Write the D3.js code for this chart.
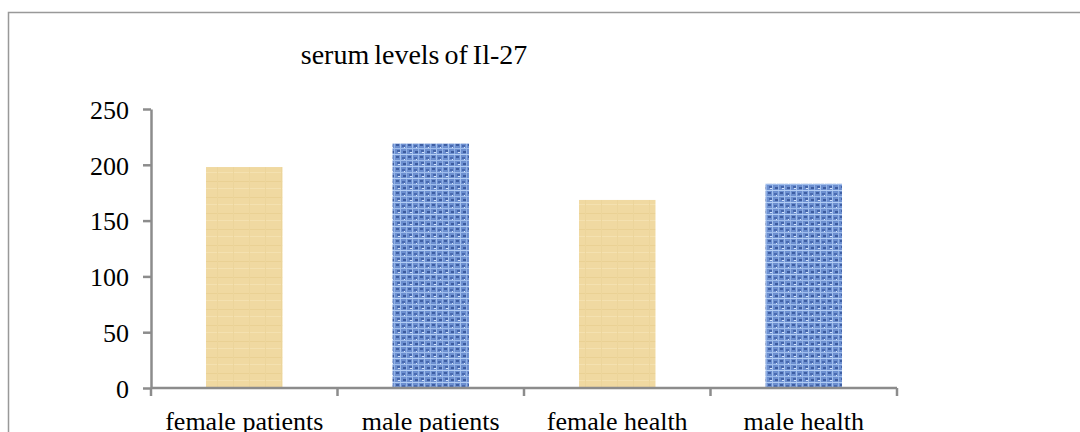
<!DOCTYPE html>
<html>

<head>
  <meta charset="utf-8">
  <title>serum levels of Il-27</title>
  <style>
    body {
      margin: 0;
      background: #fff;
    }

    text {
      font-family: "Liberation Serif", "Times New Roman", Times, serif;
      font-size: 26px;
      fill: #000;
    }

    .axis path,
    .axis line {
      stroke: #8c8c8c;
      stroke-width: 2.5px;
    }
  </style>
</head>

<body>
  <svg width="1080" height="432"></svg>

  <script src="https://cdn.jsdelivr.net/npm/d3@7"></script>
  <script>
    // data
    var categories = ["female patients", "male patients", "female health", "male health"];
    var values = [198, 219, 168.5, 183];
    var fills = ["paper", "cloth", "paper", "cloth"];
    var yTicks = [0, 50, 100, 150, 200, 250];
    var title = "serum levels of Il-27";

    var svg = d3.select("svg");
    var plotLeft = 151, plotRight = 897, plotTop = 109, plotBottom = 388;

    // outer chart frame (runs off the right and bottom edges)
    svg.append("rect")
      .attr("x", 8.5).attr("y", 12.5)
      .attr("width", 1100).attr("height", 450)
      .attr("fill", "none")
      .attr("stroke", "#999")
      .attr("stroke-width", 1.5);

    // textures for the bars
    var defs = svg.append("defs");

    // papyrus-like fill, nearly flat
    var paper = defs.append("pattern")
      .attr("id", "paper")
      .attr("patternUnits", "userSpaceOnUse")
      .attr("width", 16).attr("height", 16);
    paper.append("rect").attr("width", 16).attr("height", 16).attr("fill", "#f0d9a1");
    paper.append("rect").attr("y", 5).attr("width", 16).attr("height", 1).attr("fill", "#ead194");
    paper.append("rect").attr("y", 12).attr("width", 16).attr("height", 1).attr("fill", "#f4e1b0");
    paper.append("rect").attr("x", 9).attr("width", 1).attr("height", 16).attr("fill", "#ecd59b");

    // woven blue fill
    var cloth = defs.append("pattern")
      .attr("id", "cloth")
      .attr("patternUnits", "userSpaceOnUse")
      .attr("width", 12).attr("height", 12);
    var clothBits = [
      [0, 0, 12, 12, "#6c8fd0"],
      [0, 0, 3, 2, "#3f5fa3"],
      [6, 1, 3, 2, "#4a6bb0"],
      [1, 6, 3, 2, "#4566ab"],
      [7, 7, 3, 2, "#3d5c9f"],
      [4, 0, 1, 12, "#a3c0ee"],
      [10, 0, 1, 12, "#93b2e6"],
      [0, 4, 12, 1, "#9fbdec"],
      [0, 10, 12, 1, "#b2cdf4"],
      [2, 8, 2, 1, "#d2e2fb"],
      [8, 3, 1, 1, "#d5e4fb"]
    ];
    clothBits.forEach(function (b) {
      cloth.append("rect")
        .attr("x", b[0]).attr("y", b[1])
        .attr("width", b[2]).attr("height", b[3])
        .attr("fill", b[4]);
    });

    var x = d3.scaleBand()
      .domain(categories)
      .range([plotLeft, plotRight])
      .paddingInner(0.59)
      .paddingOuter(0.295);

    var y = d3.scaleLinear()
      .domain([0, 250])
      .range([plotBottom, plotTop]);

    // title
    svg.append("text")
      .attr("x", 414)
      .attr("y", 64)
      .attr("text-anchor", "middle")
      .style("font-size", "28px")
      .style("word-spacing", "-2px")
      .text(title);

    // bars
    svg.selectAll(".bar")
      .data(values)
      .enter().append("rect")
      .attr("class", "bar")
      .attr("x", function (d, i) { return x(categories[i]); })
      .attr("width", x.bandwidth())
      .attr("y", function (d) { return y(d); })
      .attr("height", function (d) { return plotBottom - y(d); })
      .attr("fill", function (d, i) { return "url(#" + fills[i] + ")"; });

    // y axis
    var yAxis = svg.append("g")
      .attr("class", "axis")
      .attr("transform", "translate(" + plotLeft + ",0)")
      .call(d3.axisLeft(y).tickValues(yTicks).tickSize(8).tickSizeOuter(0).tickPadding(14));
    yAxis.attr("font-family", null).attr("font-size", null);
    yAxis.selectAll("text").attr("dy", "0.36em");

    // x axis, ticks sit between the categories
    var xAxis = svg.append("g")
      .attr("class", "axis")
      .attr("transform", "translate(0," + plotBottom + ")");
    xAxis.append("line")
      .attr("x1", plotLeft).attr("x2", plotRight);
    var edges = [plotLeft].concat(categories.map(function (c) {
      return x(c) + x.bandwidth() / 2 + x.step() / 2;
    }));
    xAxis.selectAll(".tk")
      .data(edges)
      .enter().append("line")
      .attr("class", "tk")
      .attr("x1", function (d) { return d; })
      .attr("x2", function (d) { return d; })
      .attr("y1", 0).attr("y2", 8);
    xAxis.selectAll(".lbl")
      .data(categories)
      .enter().append("text")
      .attr("class", "lbl")
      .attr("x", function (d) { return x(d) + x.bandwidth() / 2; })
      .attr("y", 42)
      .attr("text-anchor", "middle")
      .text(function (d) { return d; });
  </script>
</body>

</html>
